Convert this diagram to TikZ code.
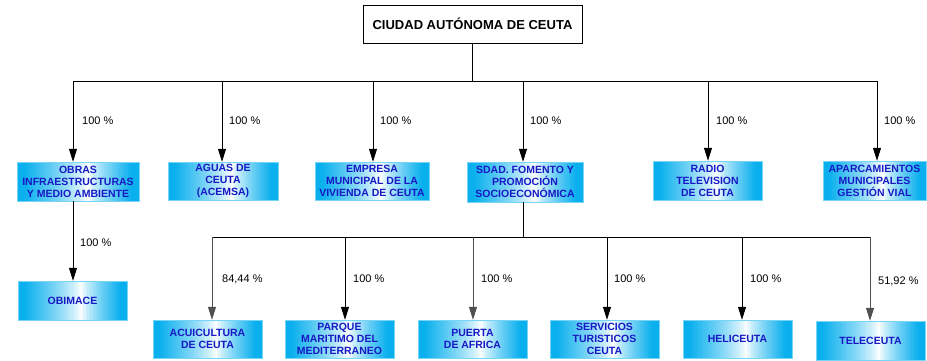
\documentclass[tikz,border=0pt]{standalone}
\usepackage{fontspec}
\setmainfont{Liberation Sans}
\usetikzlibrary{arrows.meta,calc}
\definecolor{cyanb}{RGB}{10,176,238}
\definecolor{txtb}{RGB}{24,24,196}
\definecolor{arrgray}{RGB}{80,80,80}
\begin{document}
\begin{tikzpicture}[x=1pt,y=1pt,
  box/.style={rectangle, inner sep=0pt, draw=cyanb!55!white, line width=0.4pt,
    text=txtb, font=\fontsize{10.5}{12}\selectfont\bfseries, align=center,
    path picture={
      \coordinate (bsw) at (path picture bounding box.south west);
      \coordinate (bse) at (path picture bounding box.south east);
      \coordinate (bnw) at (path picture bounding box.north west);
      \coordinate (bne) at (path picture bounding box.north east);
      \foreach \i in {0,...,79}{
        \pgfmathsetmacro{\xt}{(\i+0.5)/80}
        \pgfmathsetmacro{\xd}{\xt<0.58 ? (0.58-\xt)/0.52 : (\xt-0.58)/0.36}
        \pgfmathsetmacro{\xp}{100*pow(max(min(1,\xd),0.001),0.8)}
        \pgfmathsetmacro{\xa}{\i/80}
        \pgfmathsetmacro{\xb}{(\i+1.2)/80}
        \fill[cyanb!\xp!white] ($(bsw)!\xa!(bse)$) rectangle ($(bnw)!\xb!(bne)$);
      }
    }},
  topbox/.style={rectangle, draw=black, line width=0.8pt, fill=white, inner sep=0pt,
    minimum width=219pt, minimum height=38pt, font=\fontsize{13}{15}\selectfont\bfseries},
  line/.style={line width=0.8pt, draw=black},
  arr/.style={line width=0.8pt, draw=black, -{Triangle[length=13pt,width=8pt]}},
  arrg/.style={arr, draw=arrgray},
  pct/.style={anchor=west, inner sep=0pt, font=\fontsize{11}{13}\selectfont}
]
\useasboundingbox (0,0) rectangle (927,360);

% top
\node[topbox] (top) at (472.5,336) {CIUDAD AUTÓNOMA DE CEUTA};

% level 1 boxes
\node[box, minimum width=122pt, minimum height=39pt] (obras) at (78,178.5) {OBRAS\\INFRAESTRUCTURAS\\Y MEDIO AMBIENTE};
\node[box, minimum width=110pt, minimum height=38pt] (aguas) at (223,179) {AGUAS DE\\CEUTA\\(ACEMSA)};
\node[box, minimum width=114pt, minimum height=38pt] (empresa) at (372,179) {EMPRESA\\MUNICIPAL DE LA\\VIVIENDA DE CEUTA};
\node[box, minimum width=116pt, minimum height=40pt] (sdad) at (525,178) {SDAD. FOMENTO Y\\PROMOCIÓN\\SOCIOECONÓMICA};
\node[box, minimum width=109pt, minimum height=39pt] (radio) at (707.5,179.5) {RADIO\\TELEVISION\\DE CEUTA};
\node[box, minimum width=103pt, minimum height=39pt] (aparc) at (874.5,179.5) {APARCAMIENTOS\\MUNICIPALES\\GESTIÓN VIAL};

% OBIMACE
\node[box, minimum width=109pt, minimum height=39pt] (obimace) at (72.5,59.5) {OBIMACE};

% level 2 boxes
\node[box, minimum width=109pt, minimum height=38pt] (acui) at (207.5,21) {ACUICULTURA\\DE CEUTA};
\node[box, minimum width=109pt, minimum height=38pt] (parque) at (339.5,21) {PARQUE\\MARITIMO DEL\\MEDITERRANEO};
\node[box, minimum width=109pt, minimum height=38pt] (puerta) at (472.5,21) {PUERTA\\DE AFRICA};
\node[box, minimum width=109pt, minimum height=38pt] (servicios) at (604.5,21) {SERVICIOS\\TURISTICOS\\CEUTA};
\node[box, minimum width=109pt, minimum height=38pt] (heli) at (737.5,21) {HELICEUTA};
\node[box, minimum width=109pt, minimum height=39pt] (tele) at (870.5,19.5) {TELECEUTA};

% bus 1
\coordinate (j1) at (73,279);
\coordinate (j2) at (222,279);
\coordinate (j3) at (373,279);
\coordinate (j4) at (523,279);
\coordinate (j5) at (708,279);
\coordinate (j6) at (877,279);
\draw[line] (top.south) -- (top.south |- j1);
\draw[line] (j1) -- (j6);
\draw[arr] (j1) -- (j1 |- obras.north);
\draw[arr] (j2) -- (j2 |- aguas.north);
\draw[arr] (j3) -- (j3 |- empresa.north);
\draw[arr] (j4) -- (j4 |- sdad.north);
\draw[arr] (j5) -- (j5 |- radio.north);
\draw[arr] (j6) -- (j6 |- aparc.north);

\node[pct] (p1) at (82,239) {100 \%};
\node[pct] (p2) at (229,239) {100 \%};
\node[pct] (p3) at (380,239) {100 \%};
\node[pct] (p4) at (530,239) {100 \%};
\node[pct] (p5) at (716,239) {100 \%};
\node[pct] (p6) at (884,239) {100 \%};

% obras -> obimace
\coordinate (o1) at (73,159);
\draw[arr] (o1 |- obras.south) -- (o1 |- obimace.north);
\node[pct] (p7) at (80,117) {100 \%};

% bus 2
\coordinate (s0) at (523,123);
\coordinate (k1) at (212,123);
\coordinate (k2) at (345,123);
\coordinate (k3) at (473,123);
\coordinate (k4) at (607,123);
\coordinate (k5) at (742,123);
\coordinate (k6) at (870,123);
\draw[line] (s0 |- sdad.south) -- (s0);
\draw[line] (k1) -- (k6);
\draw[arrg] (k1) -- (k1 |- acui.north);
\draw[arr] (k2) -- (k2 |- parque.north);
\draw[arrg] (k3) -- (k3 |- puerta.north);
\draw[arr] (k4) -- (k4 |- servicios.north);
\draw[arr] (k5) -- (k5 |- heli.north);
\draw[arrg] (k6) -- (k6 |- tele.north);

\node[pct] (q1) at (222,81) {84,44 \%};
\node[pct] (q2) at (353,81) {100 \%};
\node[pct] (q3) at (481,81) {100 \%};
\node[pct] (q4) at (614,81) {100 \%};
\node[pct] (q5) at (750,81) {100 \%};
\node[pct] (q6) at (878,79) {51,92 \%};
\end{tikzpicture}
\end{document}
